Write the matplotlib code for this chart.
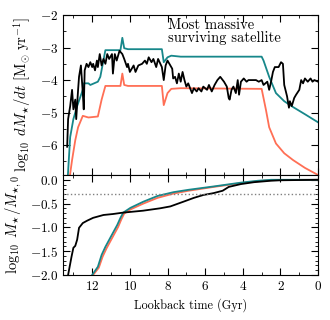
import numpy as np
import matplotlib
matplotlib.use("Agg")
import matplotlib.pyplot as plt
from matplotlib.ticker import MultipleLocator

plt.rcParams['font.family'] = 'cmr10'
plt.rcParams['mathtext.fontset'] = 'cm'
plt.rcParams['axes.formatter.use_mathtext'] = True
plt.rcParams['axes.unicode_minus'] = True

TEAL = '#17878a'
SALMON = '#ff6f55'

# star formation rate (top panel), lookback time in Gyr
teal_t = [13.3, 13.17, 13.0, 12.8, 12.5, 12.45, 12.2, 12.1, 11.9, 11.7, 11.57, 11.3,
          10.5, 10.4, 10.3, 10.1, 8.3, 8.2, 8.0, 7.8, 7.3, 3.0, 2.9, 2.6, 2.24, 1.8, 1.33, 0.7, 0.0]
teal_sfr = [-7.0, -5.75, -5.2, -4.8, -4.3, -4.1, -4.1, -4.15, -4.1, -4.05, -3.9, -3.08,
            -3.08, -2.7, -3.02, -3.05, -3.05, -3.45, -3.3, -3.25, -3.28, -3.28, -3.4, -3.9, -4.4, -4.65, -4.83, -5.05, -5.3]

salmon_t = [13.2, 13.07, 12.9, 12.75, 12.5, 12.2, 11.7, 11.5, 11.3, 10.5, 10.4, 10.3, 10.1,
            8.3, 8.2, 8.0, 7.8, 7.3, 3.0, 2.77, 2.6, 2.24, 1.8, 1.33, 0.7, 0.0]
salmon_sfr = [-7.0, -6.46, -5.85, -5.45, -5.1, -5.15, -5.12, -4.6, -4.18, -4.18, -3.8, -4.15, -4.18,
              -4.18, -4.77, -4.4, -4.27, -4.25, -4.27, -4.92, -5.45, -5.95, -6.25, -6.46, -6.7, -6.92]

black_t = [13.33, 13.28, 13.17, 13.07, 13.0, 12.9, 12.85, 12.75, 12.7, 12.6, 12.5, 12.45, 12.4,
           12.3, 12.2, 12.1, 12.0, 11.95, 11.85, 11.75, 11.7, 11.6, 11.5, 11.4, 11.3, 11.2, 11.1,
           10.95, 10.9, 10.8, 10.7, 10.55, 10.4, 10.3, 10.15, 10.1, 10.0, 9.8, 9.7, 9.55, 9.35,
           9.2, 9.1, 9.0, 8.85, 8.75, 8.6, 8.5, 8.3, 8.2, 8.1, 8.0, 7.85, 7.75, 7.7, 7.6, 7.5,
           7.4, 7.3, 7.2, 7.1, 7.0, 6.9, 6.7, 6.6, 6.45, 6.35, 6.2, 6.1, 5.9, 5.8, 5.65, 5.5,
           5.35, 5.2, 5.0, 4.85, 4.75, 4.7, 4.6, 4.5, 4.37, 4.27, 4.2, 4.1, 3.95, 3.8, 3.7, 3.5,
           3.3, 3.15, 3.0, 2.9, 2.7, 2.6, 2.5, 2.4, 2.3, 2.1, 1.97, 1.87, 1.8, 1.65, 1.55, 1.5,
           1.4, 1.27, 1.17, 1.0, 0.9, 0.8, 0.7, 0.55, 0.4, 0.3, 0.2, 0.0]
black_sfr = [-6.05, -5.2, -4.8, -4.3, -4.9, -4.6, -5.2, -4.3, -3.9, -3.55, -4.4, -4.9, -3.7,
             -3.5, -3.6, -3.45, -3.6, -3.5, -3.7, -3.4, -3.6, -3.2, -3.55, -3.35, -3.5, -3.2, -3.35,
             -3.2, -3.8, -3.2, -3.4, -3.1, -3.2, -3.35, -3.6, -3.5, -3.75, -3.55, -3.75, -3.55, -3.5,
             -3.4, -3.5, -3.3, -3.45, -3.35, -3.6, -3.35, -3.6, -4.0, -3.55, -3.4, -3.55, -3.65, -3.95, -3.9, -4.1,
             -3.8, -4.05, -3.75, -4.0, -4.2, -4.1, -4.4, -4.25, -4.35, -4.25, -4.35, -4.2, -4.3, -4.15, -4.35, -4.15,
             -4.0, -3.9, -4.05, -4.2, -4.55, -4.6, -4.3, -4.2, -4.4, -4.0, -4.45, -4.05, -3.95, -4.05, -4.0, -4.0,
             -4.0, -4.05, -4.0, -4.15, -4.05, -4.3, -4.05, -3.75, -3.6, -3.6, -3.45, -3.5, -4.15, -4.5, -4.85, -4.65,
             -4.8, -4.55, -4.45, -4.3, -4.0, -4.1, -3.95, -4.05, -3.95, -4.05, -4.0, -4.05]

# cumulative stellar mass fraction (bottom panel)
cum_teal_t = [12.0, 11.7, 11.5, 11.3, 11.0, 10.67, 10.5, 10.35, 9.97, 9.28, 8.53, 7.68, 6.88,
              5.55, 4.1, 3.2, 2.5, 0.0]
cum_teal = [-2.0, -1.83, -1.58, -1.41, -1.19, -0.95, -0.8, -0.69, -0.59, -0.46, -0.34, -0.26, -0.21,
            -0.14, -0.06, -0.02, 0.0, 0.0]

cum_salmon_t = [11.95, 11.65, 11.45, 11.25, 10.95, 10.62, 10.45, 10.3, 9.95, 9.28, 8.53, 7.68, 6.88,
                5.55, 4.1, 3.2, 2.5, 0.0]
cum_salmon = [-2.0, -1.85, -1.62, -1.45, -1.23, -0.99, -0.83, -0.71, -0.62, -0.5, -0.38, -0.29, -0.23,
              -0.15, -0.07, -0.03, -0.005, 0.0]

cum_black_t = [13.28, 13.1, 13.0, 12.9, 12.8, 12.7, 12.5, 12.27, 11.95, 11.4, 10.9, 10.35, 9.3,
               8.4, 7.85, 7.15, 6.6, 6.1, 5.55, 5.07, 4.75, 4.1, 3.4, 2.5, 2.0, 0.0]
cum_black = [-2.0, -1.62, -1.43, -1.39, -1.26, -1.01, -0.91, -0.86, -0.8, -0.74, -0.72, -0.69, -0.65,
             -0.6, -0.56, -0.46, -0.38, -0.32, -0.28, -0.23, -0.15, -0.09, -0.05, -0.02, -0.01, 0.0]

fig = plt.figure(figsize=(3.3, 3.2), dpi=100)
ax1 = fig.add_axes([0.191, 0.453, 0.773, 0.500])
ax2 = fig.add_axes([0.191, 0.141, 0.773, 0.312], sharex=ax1)

ax1.plot(teal_t, teal_sfr, color=TEAL, lw=1.3)
ax1.plot(salmon_t, salmon_sfr, color=SALMON, lw=1.3)
ax1.plot(black_t, black_sfr, color='black', lw=1.3)
ax1.text(8.0, -2.1, 'Most massive\nsurviving satellite', ha='left', va='top',
         fontsize=10.5, linespacing=0.95)
ax1.set_ylim(-6.92, -2)
ax1.set_ylabel(r'$\log_{10}\ dM_{\star}/dt\ [\mathrm{M_{\odot}\ yr^{-1}}]$', fontsize=10.5)
ax1.yaxis.set_major_locator(MultipleLocator(1))
ax1.yaxis.set_minor_locator(MultipleLocator(0.5))
plt.setp(ax1.get_xticklabels(), visible=False)

ax2.plot(cum_salmon_t, cum_salmon, color=SALMON, lw=1.3)
ax2.plot(cum_teal_t, cum_teal, color=TEAL, lw=1.3)
ax2.plot(cum_black_t, cum_black, color='black', lw=1.3)
ax2.axhline(-0.3, color='gray', ls=':', lw=1)
ax2.set_ylim(-2, 0.1)
ax2.set_xlim(13.55, 0)
ax2.set_ylabel(r'$\log_{10}\ M_{\star}/M_{\star,0}$', fontsize=10.5)
ax2.set_xlabel('Lookback time (Gyr)', fontsize=8.8)
ax2.yaxis.set_major_locator(MultipleLocator(0.5))
ax2.yaxis.set_minor_locator(MultipleLocator(0.1))
ax2.xaxis.set_major_locator(MultipleLocator(2))
ax2.xaxis.set_minor_locator(MultipleLocator(1))

for ax in (ax1, ax2):
    ax.tick_params(which='both', direction='in', top=True, right=True, labelsize=9.5)
    ax.tick_params(which='major', length=5)
    ax.tick_params(which='minor', length=2.5)

fig.savefig('out.png', dpi=100)
